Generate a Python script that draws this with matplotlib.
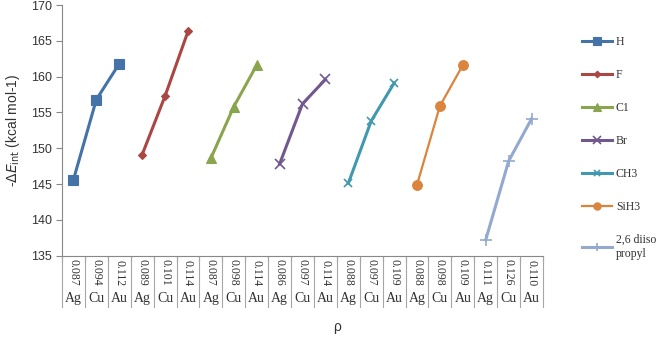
import matplotlib
matplotlib.use("Agg")
import matplotlib.pyplot as plt
import numpy as np

metals = ["Ag", "Cu", "Au"]
rho_labels = ["0.087", "0.094", "0.112", "0.089", "0.101", "0.114", "0.087",
              "0.098", "0.114", "0.086", "0.097", "0.114", "0.088", "0.097",
              "0.109", "0.088", "0.098", "0.109", "0.111", "0.126", "0.110"]

series_names = ["H", "F", "C1", "Br", "CH3", "SiH3", "2,6 diiso\npropyl"]
h_vals = [145.6, 156.8, 161.8]
f_vals = [149.1, 157.3, 166.3]
cl_vals = [148.6, 155.8, 161.6]
br_vals = [147.8, 156.2, 159.6]
ch3_vals = [145.1, 153.8, 159.1]
sih3_vals = [144.9, 155.9, 161.6]
dip_vals = [137.2, 148.2, 154.1]
all_vals = [h_vals, f_vals, cl_vals, br_vals, ch3_vals, sih3_vals, dip_vals]

colors = ["#4572A7", "#AA4643", "#89A54E", "#71588F", "#4198AF", "#DB843D", "#93A9CF"]
markers = ["s", "D", "^", "x", "x", "o", "+"]
msizes = [7, 4.5, 7, 7, 6, 7, 8]
lwidths = [2.2, 2.2, 2.2, 2.2, 2.2, 1.6, 2.2]

fig = plt.figure(figsize=(6.66, 3.45), dpi=100)
ax = fig.add_axes([62 / 666, 1 - 255.6 / 345, 481 / 666, 250.6 / 345])

for i, (name, vals) in enumerate(zip(series_names, all_vals)):
    x = np.arange(3) + 3 * i
    ax.plot(x, vals, color=colors[i], marker=markers[i], markersize=msizes[i],
            linewidth=lwidths[i], markeredgewidth=1.2 if markers[i] in "x+" else 0.8,
            markeredgecolor=colors[i], label=name)

n = len(rho_labels)
ax.set_xlim(-0.5, n - 0.5)
ax.set_ylim(135, 170)
ax.set_yticks(np.arange(135, 171, 5))
ax.set_xticks(np.arange(n + 1) - 0.5)
ax.set_xticklabels([])
ax.tick_params(axis="x", length=4, color="#888888")
ax.tick_params(axis="y", length=4, color="#888888", labelsize=9, labelcolor="#333333")
for lab in ax.get_yticklabels():
    lab.set_family("Liberation Sans")
ax.spines["top"].set_visible(False)
ax.spines["right"].set_visible(False)
ax.spines["left"].set_color("#888888")
ax.spines["bottom"].set_color("#888888")

trans = ax.get_xaxis_transform()
for k in range(n + 1):
    ax.plot([k - 0.5, k - 0.5], [0, -0.205], transform=trans, color="#A6A6A6",
            linewidth=0.8, clip_on=False)
for k, lab in enumerate(rho_labels):
    ax.text(k, -0.068, lab, transform=trans, rotation=-90, ha="center", va="center",
            family="Liberation Serif", fontsize=8.5, color="#333333")
    ax.text(k, -0.172, metals[k % 3], transform=trans, ha="center", va="center",
            family="Liberation Serif", fontsize=10, color="#333333")
ax.text(0.572, -0.285, "ρ", transform=ax.transAxes, ha="center", va="center",
        family="Liberation Sans", fontsize=10, color="#333333")

ax.set_ylabel(r"-$\Delta E_{\rm int}$ (kcal mol-1)", family="Liberation Sans",
              fontsize=10, color="#333333", labelpad=6)

leg = fig.legend(loc="upper left", bbox_to_anchor=(577 / 666, 1 - 31 / 345),
                 frameon=False, handlelength=2.6, labelspacing=1.78, markerscale=0.75,
                 prop={"family": "Liberation Serif", "size": 8.5}, handletextpad=0.3,
                 borderaxespad=0)
for t in leg.get_texts():
    t.set_color("#333333")

fig.savefig("out.png", dpi=100)
